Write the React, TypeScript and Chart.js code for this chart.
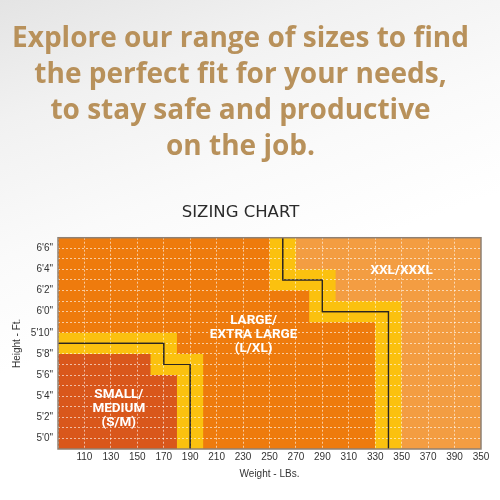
import React, { useEffect, useRef } from 'react';
import { Chart, registerables } from 'chart.js';

Chart.register(...registerables);

// ---- text ----
const headingLines = [
  'Explore our range of sizes to find',
  'the perfect fit for your needs,',
  'to stay safe and productive',
  'on the job.',
];
const chartTitle = 'SIZING CHART';
const xAxisTitle = 'Weight - LBs.';
const yAxisTitle = 'Height - Ft.';

// ---- ticks ----
const weightTicks = [110, 130, 150, 170, 190, 210, 230, 250, 270, 290, 310, 330, 350, 370, 390, 410];
const weightTickLabels = ['110', '130', '150', '170', '190', '210', '230', '250', '270', '290', '310', '330', '350', '370', '390', '350'];
const heightTicks = [60, 62, 64, 66, 68, 70, 72, 74, 76, 78];
const heightTickLabels = ["5'0\"", "5'2\"", "5'4\"", "5'6\"", "5'8\"", "5'10\"", "6'0\"", "6'2\"", "6'4\"", "6'6\""];

// ---- regions (weight in lbs, height in inches) ----
const xxlWeights = [90, 410];
const xxlHeights = [79, 79];
const band2Weights = [90, 270, 270, 300, 300, 350, 350];
const band2Heights = [79, 79, 76, 76, 73, 73, 59];
const lxlWeights = [90, 250, 250, 280, 280, 330, 330];
const lxlHeights = [79, 79, 74, 74, 71, 71, 59];
const band1Weights = [90, 180, 180, 200, 200];
const band1Heights = [70, 70, 68, 68, 59];
const smWeights = [90, 160, 160, 180, 180];
const smHeights = [68, 68, 66, 66, 59];
const line1Weights = [90, 170, 170, 190, 190];
const line1Heights = [69, 69, 67, 67, 59];
const line2Weights = [260, 260, 290, 290, 340, 340];
const line2Heights = [79, 75, 75, 72, 72, 59];

// ---- region labels ----
const regionNames = [
  ['SMALL/', 'MEDIUM', '(S/M)'],
  ['LARGE/', 'EXTRA LARGE', '(L/XL)'],
  ['XXL/XXXL'],
];
const regionWeights = [136, 238, 350];
const regionHeights = [63, 70, 76];

const pts = (xs: number[], ys: number[]) => xs.map((x, i) => ({ x, y: ys[i] }));

const regionDataset = (xs: number[], ys: number[], color: string, order: number) => ({
  data: pts(xs, ys),
  showLine: true,
  fill: 'start',
  backgroundColor: color,
  borderColor: color,
  borderWidth: 0,
  pointRadius: 0,
  order,
});

const lineDataset = (xs: number[], ys: number[]) => ({
  data: pts(xs, ys),
  showLine: true,
  fill: false,
  borderColor: '#2a2522',
  borderWidth: 1.2,
  borderDash: [],
  pointRadius: 0,
  order: 1,
  isBoundary: true,
});

// Frame around the plot, and boundary lines redrawn above the grid layer
const framePlugin = {
  id: 'frame',
  afterDraw(chart: any) {
    const { ctx, chartArea } = chart;
    chart.data.datasets.forEach((ds: any, i: number) => {
      if (!ds.isBoundary) return;
      const meta = chart.getDatasetMeta(i);
      ctx.save();
      ctx.setLineDash([]);
      meta.dataset.draw(ctx, chartArea);
      ctx.restore();
    });
    ctx.save();
    ctx.setLineDash([]);
    ctx.strokeStyle = '#8f8174';
    ctx.lineWidth = 1.5;
    ctx.strokeRect(chartArea.left, chartArea.top, chartArea.right - chartArea.left, chartArea.bottom - chartArea.top);
    ctx.restore();
  },
};

const regionLabelPlugin = {
  id: 'regionLabels',
  afterDraw(chart: any) {
    const { ctx } = chart;
    const xs = chart.scales.x;
    const ys = chart.scales.y;
    ctx.save();
    ctx.fillStyle = '#ffffff';
    ctx.font = 'bold 13.5px Roboto, sans-serif';
    ctx.textAlign = 'center';
    ctx.textBaseline = 'middle';
    const lh = 14;
    regionNames.forEach((lines, i) => {
      const cx = xs.getPixelForValue(regionWeights[i]);
      const cy = ys.getPixelForValue(regionHeights[i]) + 1.5;
      const start = cy - ((lines.length - 1) * lh) / 2;
      lines.forEach((t, j) => ctx.fillText(t, cx, start + j * lh));
    });
    ctx.restore();
  },
};

export default function App() {
  const ref = useRef<HTMLCanvasElement>(null);
  useEffect(() => {
    if (!ref.current) return;
    const tickFont = { family: 'Liberation Sans, Arial, sans-serif', size: 10 };
    const chart = new Chart(ref.current, {
      type: 'scatter',
      data: {
        datasets: [
          regionDataset(xxlWeights, xxlHeights, '#f39d42', 7),
          regionDataset(band2Weights, band2Heights, '#fbc10f', 6),
          regionDataset(lxlWeights, lxlHeights, '#ee7b0d', 5),
          regionDataset(band1Weights, band1Heights, '#fbc10f', 4),
          regionDataset(smWeights, smHeights, '#d9571b', 3),
          lineDataset(line1Weights, line1Heights),
          lineDataset(line2Weights, line2Heights),
        ] as any,
      },
      options: {
        animation: false,
        responsive: false,
        layout: { padding: { left: 0, right: 19, top: 0, bottom: 0 } },
        plugins: {
          legend: { display: false },
          tooltip: { enabled: false },
          title: {
            display: true,
            text: headingLines,
            color: '#b8915b',
            font: { family: 'Open Sans, sans-serif', weight: 'bold', size: 28, lineHeight: 1.285 },
            padding: { top: 21, bottom: 0 },
          },
          subtitle: {
            display: true,
            text: chartTitle,
            color: '#2b2b2b',
            font: { family: 'DejaVu Sans, sans-serif', size: 16.5, lineHeight: 1.2 },
            padding: { top: 38, bottom: 15 },
          },
        },
        scales: {
          x: {
            type: 'linear',
            min: 90,
            max: 410,
            afterFit: (s: any) => { s.height = 51; },
            ticks: {
              stepSize: 20,
              autoSkip: false,
              maxRotation: 0,
              padding: 2,
              color: '#333333',
              font: tickFont,
              callback: (v: any) => {
                const i = weightTicks.indexOf(Number(v));
                return i >= 0 ? weightTickLabels[i] : '';
              },
            },
            grid: { color: 'rgba(255,255,255,0.6)', lineWidth: 1, drawTicks: false, z: 1 },
            border: { display: false, dash: [2, 2] },
            title: {
              display: true,
              text: xAxisTitle,
              color: '#333333',
              font: tickFont,
              padding: { top: 0, bottom: 20 },
            },
          },
          y: {
            type: 'linear',
            min: 59,
            max: 79,
            afterFit: (s: any) => { s.width = 58; },
            ticks: {
              stepSize: 1,
              autoSkip: false,
              padding: 5,
              color: '#333333',
              font: tickFont,
              callback: (v: any) => {
                const i = heightTicks.indexOf(Number(v));
                return i >= 0 ? heightTickLabels[i] : '';
              },
            },
            grid: { color: 'rgba(255,255,255,0.6)', lineWidth: 1, drawTicks: false, z: 1 },
            border: { display: false, dash: [2, 2] },
            title: {
              display: true,
              text: yAxisTitle,
              color: '#333333',
              font: tickFont,
              padding: { top: 11, bottom: 0 },
            },
          },
        },
      } as any,
      plugins: [framePlugin, regionLabelPlugin],
    });
    return () => chart.destroy();
  }, []);
  return (
    <div
      style={{
        position: 'fixed',
        left: 0,
        top: 0,
        width: 500,
        height: 500,
        background: 'linear-gradient(160deg, #e4e4e4 0%, #f1f1f1 18%, #fafafa 38%, #ffffff 55%)',
      }}
    >
      <canvas ref={ref} width={500} height={500} />
    </div>
  );
}
